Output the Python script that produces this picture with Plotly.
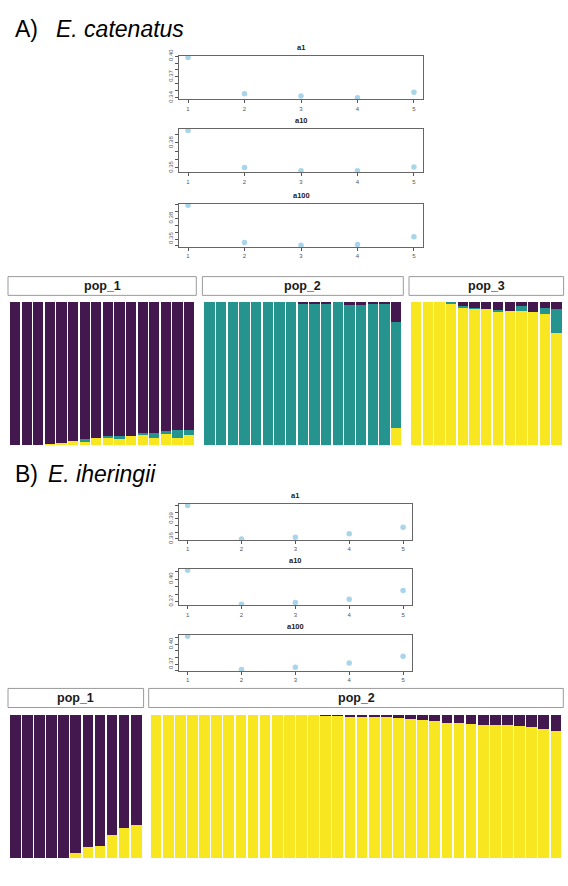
import plotly.graph_objects as go

# ---------------- data ----------------
K_VALUES = [1, 2, 3, 4, 5]

# cross-entropy style scores (section A: E. catenatus)
A_a1 = [0.3980, 0.3457, 0.3424, 0.3400, 0.3480]
A_a10 = [0.3950, 0.3504, 0.3464, 0.3464, 0.3509]
A_a100 = [0.3995, 0.3450, 0.3407, 0.3420, 0.3534]
# section B: E. iheringii
B_a1 = [0.4100, 0.3600, 0.3624, 0.3676, 0.3776]
B_a10 = [0.4117, 0.3665, 0.3687, 0.3730, 0.3847]
B_a100 = [0.4125, 0.3615, 0.3650, 0.3715, 0.3820]

SCATTER_TITLES = ["a1", "a10", "a100"]
A_TICK0 = [0.34, 0.35, 0.35]
B_TICK0 = [0.36, 0.37, 0.37]

# ancestry proportions, section A (K=3)
A_pop1_yellow = [0, 0, 0, 0.01, 0.02, 0.03, 0.025, 0.05, 0.06, 0.045, 0.065, 0.08, 0.055, 0.08, 0.05, 0.07]
A_pop1_teal = [0, 0, 0, 0, 0, 0, 0.018, 0, 0.004, 0.02, 0, 0.004, 0.03, 0.018, 0.055, 0.041]
A_pop2_yellow = [0, 0, 0, 0, 0, 0, 0.004, 0.004, 0, 0, 0.004, 0.006, 0, 0, 0.006, 0.006, 0.12]
A_pop2_purple = [0, 0, 0, 0, 0, 0, 0, 0, 0.01, 0.01, 0.01, 0, 0.02, 0.02, 0.01, 0.01, 0.14]
A_pop3_purple = [0, 0, 0, 0, 0.03, 0.04, 0.05, 0.06, 0.065, 0.03, 0.07, 0.045, 0.05]
A_pop3_teal = [0, 0, 0, 0.014, 0.01, 0.004, 0, 0.004, 0, 0.037, 0, 0.037, 0.165]

# ancestry proportions, section B (K=2)
B_pop1_yellow = [0, 0, 0, 0, 0, 0.035, 0.078, 0.083, 0.165, 0.21, 0.233]
B_pop2_purple = [0] * 14 + [0.005, 0.007, 0.01, 0.014, 0.016, 0.018, 0.02, 0.032, 0.037,
                            0.046, 0.055, 0.055, 0.062, 0.069, 0.073, 0.073, 0.078, 0.087,
                            0.099, 0.112]

POP_LABELS = ["pop_1", "pop_2", "pop_3"]

# ---------------- styling ----------------
W, H = 568, 886
PURPLE = "#42184F"
TEAL = "#25948E"
YELLOW = "#F8E621"
POINT = "#A8D5EA"
FONT = "Liberation Sans, Arial, sans-serif"


def fx(px):
    return px / W


def fy(py):
    return 1 - py / H


def comp(a, b=None):
    return [round(1 - x - (b[i] if b else 0), 4) for i, x in enumerate(a)]


layout = dict(width=W, height=H, margin=dict(l=0, r=0, t=0, b=0),
              paper_bgcolor="white", plot_bgcolor="white",
              barmode="stack", bargap=0.12, showlegend=False,
              font=dict(family=FONT), annotations=[], shapes=[])
fig = go.Figure()
ax = [0]


def names():
    ax[0] += 1
    k = ax[0]
    return ("x" if k == 1 else f"x{k}"), ("y" if k == 1 else f"y{k}"), \
           ("xaxis" if k == 1 else f"xaxis{k}"), ("yaxis" if k == 1 else f"yaxis{k}")


# ---------------- scatter panels ----------------
scatter_sets = [
    ([A_a1, A_a10, A_a100], A_TICK0, 179, 423, [(49.5, 93.5), (123.5, 167.5), (199, 243)]),
    ([B_a1, B_a10, B_a100], B_TICK0, 179, 411.7, [(503.3, 540), (569, 606), (635.7, 672.3)]),
]
for series, tick0s, xl, xr, ys in scatter_sets:
    for vals, t0, title, (yt, yb) in zip(series, tick0s, SCATTER_TITLES, ys):
        xa, ya, xk, yk = names()
        fig.add_trace(go.Scatter(x=K_VALUES, y=vals, mode="markers",
                                 marker=dict(color=POINT, size=5.5),
                                 xaxis=xa, yaxis=ya, hoverinfo="skip"))
        lo, hi = min(vals), max(vals)
        pad = 0.04 * (hi - lo)
        layout[xk] = dict(domain=[fx(xl), fx(xr)], anchor=ya, range=[0.84, 5.16],
                          tickvals=K_VALUES, ticks="outside", ticklen=3, tickwidth=1,
                          tickcolor="#555", tickfont=dict(size=6, color="#555"),
                          showline=True, mirror=True, linecolor="#666", linewidth=1,
                          showgrid=False, zeroline=False)
        layout[yk] = dict(domain=[fy(yb), fy(yt)], anchor=xa, range=[lo - pad, hi + pad],
                          tick0=t0, dtick=0.03, tickformat=".2f", tickangle=-90,
                          ticks="outside", ticklen=3, tickwidth=1, tickcolor="#555",
                          tickfont=dict(size=6, color="#555"),
                          minor=dict(dtick=0.01, tick0=t0, ticks="outside", ticklen=3,
                                     tickcolor="#555", showgrid=False),
                          showline=True, mirror=True, linecolor="#666", linewidth=1,
                          showgrid=False, zeroline=False)
        layout["annotations"].append(dict(
            text=f"<b>{title}</b>", xref=f"{xa} domain", yref=f"{ya} domain",
            x=0.5, y=1, yshift=2, xanchor="center", yanchor="bottom", showarrow=False,
            font=dict(size=7.5, color="#222")))

# ---------------- structure (bar) panels ----------------
bar_panels = [
    # (components bottom->top, x px range, y px range, strip y range, label)
    ([(A_pop1_yellow, YELLOW), (A_pop1_teal, TEAL), (comp(A_pop1_yellow, A_pop1_teal), PURPLE)],
     (9.3, 195), (298.5, 444), (273, 292), POP_LABELS[0]),
    ([(A_pop2_yellow, YELLOW), (comp(A_pop2_yellow, A_pop2_purple), TEAL), (A_pop2_purple, PURPLE)],
     (203.7, 402), (298.5, 444), (273, 292), POP_LABELS[1]),
    ([(comp(A_pop3_purple, A_pop3_teal), YELLOW), (A_pop3_teal, TEAL), (A_pop3_purple, PURPLE)],
     (410.3, 562.3), (298.5, 444), (273, 292), POP_LABELS[2]),
    ([(B_pop1_yellow, YELLOW), (comp(B_pop1_yellow), PURPLE)],
     (9.3, 142.3), (716.7, 862), (690, 709.3), POP_LABELS[0]),
    ([(comp(B_pop2_purple), YELLOW), (B_pop2_purple, PURPLE)],
     (150, 562), (716.7, 862), (690, 709.3), POP_LABELS[1]),
]
for comps, (xl, xr), (yt, yb), (st, sb), label in bar_panels:
    xa, ya, xk, yk = names()
    n = len(comps[0][0])
    for vals, col in comps:
        fig.add_trace(go.Bar(x=list(range(n)), y=vals, marker=dict(color=col, line=dict(width=0)),
                             xaxis=xa, yaxis=ya, hoverinfo="skip"))
    layout[xk] = dict(domain=[fx(xl), fx(xr)], anchor=ya, range=[-0.5, n - 0.5], visible=False)
    layout[yk] = dict(domain=[fy(yb), fy(yt)], anchor=xa, range=[0, 1], visible=False)
    layout["shapes"].append(dict(type="rect", xref="paper", yref="paper",
                                 x0=fx(xl - 1.3), x1=fx(xr + 1.3), y0=fy(sb), y1=fy(st),
                                 line=dict(color="#9a9a9a", width=1), fillcolor="white"))
    layout["annotations"].append(dict(
        text=f"<b>{label}</b>", xref="paper", yref="paper",
        x=fx((xl + xr) / 2), y=fy((st + sb) / 2), xanchor="center", yanchor="middle",
        showarrow=False, font=dict(size=12.5, color="#1a1a1a")))

# ---------------- section headers ----------------
headers = [("A)", "E. catenatus", 22, 54), ("B)", "E. iheringii", 473, 46)]
for tag, species, ypx, sx in headers:
    layout["annotations"].append(dict(text=tag, xref="paper", yref="paper", x=fx(13), y=fy(ypx),
                                      xanchor="left", yanchor="middle", showarrow=False,
                                      font=dict(size=23, color="black")))
    layout["annotations"].append(dict(text=f"<i>{species}</i>", xref="paper", yref="paper",
                                      x=fx(sx), y=fy(ypx), xanchor="left", yanchor="middle",
                                      showarrow=False, font=dict(size=23, color="black")))

fig.update_layout(**layout)
fig.write_html("out.html")
